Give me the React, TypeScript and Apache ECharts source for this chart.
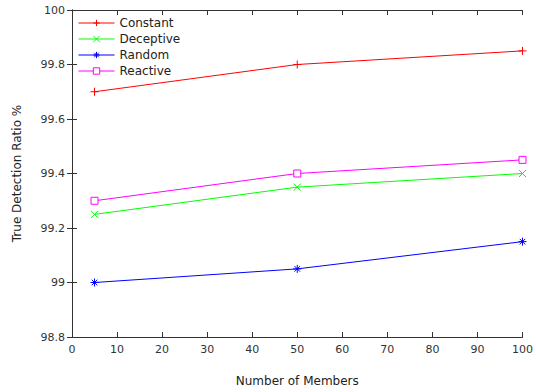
import React, { useEffect, useRef } from "react";
import * as echarts from "echarts";

const members = [5, 50, 100];
const seriesNames = ["Constant", "Deceptive", "Random", "Reactive"];
const constantVals = [99.7, 99.8, 99.85];
const deceptiveVals = [99.25, 99.35, 99.4];
const randomVals = [99.0, 99.05, 99.15];
const reactiveVals = [99.3, 99.4, 99.45];
const colors = ["#ff0000", "#00ff00", "#0000ff", "#ff00ff"];

const PLUS = "path://M0,5L10,5M5,0L5,10";
const CROSS = "path://M0,0L10,10M10,0L0,10";
const STAR = "path://M0,5L10,5M5,0L5,10M1.5,1.5L8.5,8.5M8.5,1.5L1.5,8.5";
const SQUARE = "path://M0,0L10,0L10,10L0,10Z";
const symbols = [PLUS, CROSS, STAR, SQUARE];
const sizes = [8, 7, 8, 7];

const FONT = "DejaVu Sans";

export default function App() {
  const ref = useRef<HTMLDivElement>(null);
  useEffect(() => {
    document.body.style.margin = "0";
    const chart = echarts.init(ref.current!, null, { renderer: "svg" });
    const vals = [constantVals, deceptiveVals, randomVals, reactiveVals];
    const axisLine = { show: true, lineStyle: { color: "#333", width: 1 } };
    const tick = { inside: true, length: 5, lineStyle: { color: "#333" } };
    chart.setOption({
      animation: false,
      backgroundColor: "#ffffff",
      textStyle: { fontFamily: FONT },
      grid: { left: 72, top: 10, right: 11, bottom: 53, containLabel: false },
      legend: {
        data: seriesNames,
        orient: "vertical",
        left: 73,
        top: 12,
        itemWidth: 36,
        itemHeight: 8,
        itemGap: 4,
        itemStyle: { borderWidth: 1 },
        lineStyle: { width: 1 },
        textStyle: { fontFamily: FONT, fontSize: 12, color: "#222" },
      },
      xAxis: [
        {
          type: "value",
          min: 0,
          max: 100,
          interval: 10,
          name: "Number of Members",
          nameLocation: "middle",
          nameGap: 38,
          nameTextStyle: { fontFamily: FONT, fontSize: 12, color: "#222" },
          axisLine,
          axisTick: tick,
          axisLabel: { fontFamily: FONT, fontSize: 11, color: "#333", margin: 7 },
          splitLine: { show: false },
        },
        {
          type: "value",
          position: "top",
          min: 0,
          max: 100,
          interval: 10,
          axisLine,
          axisTick: tick,
          axisLabel: { show: false },
          splitLine: { show: false },
        },
      ],
      yAxis: [
        {
          type: "value",
          min: 98.8,
          max: 100,
          interval: 0.2,
          name: "True Detection Ratio %",
          nameLocation: "middle",
          nameGap: 49,
          nameTextStyle: { fontFamily: FONT, fontSize: 12, color: "#222" },
          axisLine,
          axisTick: tick,
          axisLabel: {
            fontFamily: FONT,
            fontSize: 11,
            color: "#333",
            margin: 7,
            formatter: (v: number) => String(Math.round(v * 10) / 10),
          },
          splitLine: { show: false },
        },
        {
          type: "value",
          position: "right",
          min: 98.8,
          max: 100,
          interval: 0.2,
          axisLine,
          axisTick: tick,
          axisLabel: { show: false },
          splitLine: { show: false },
        },
      ],
      series: seriesNames.map((name, i) => ({
        name,
        type: "line",
        xAxisIndex: 0,
        yAxisIndex: 0,
        data: members.map((m, j) => [m, vals[i][j]]),
        symbol: symbols[i],
        symbolSize: sizes[i],
        showAllSymbol: true,
        lineStyle: { color: colors[i], width: 1 },
        itemStyle: {
          color: i === 3 ? "#ffffff" : colors[i],
          borderColor: colors[i],
          borderWidth: 1,
        },
        emphasis: { disabled: true },
        clip: false,
      })),
    });
    return () => chart.dispose();
  }, []);
  return <div ref={ref} style={{ width: 536, height: 392 }} />;
}
